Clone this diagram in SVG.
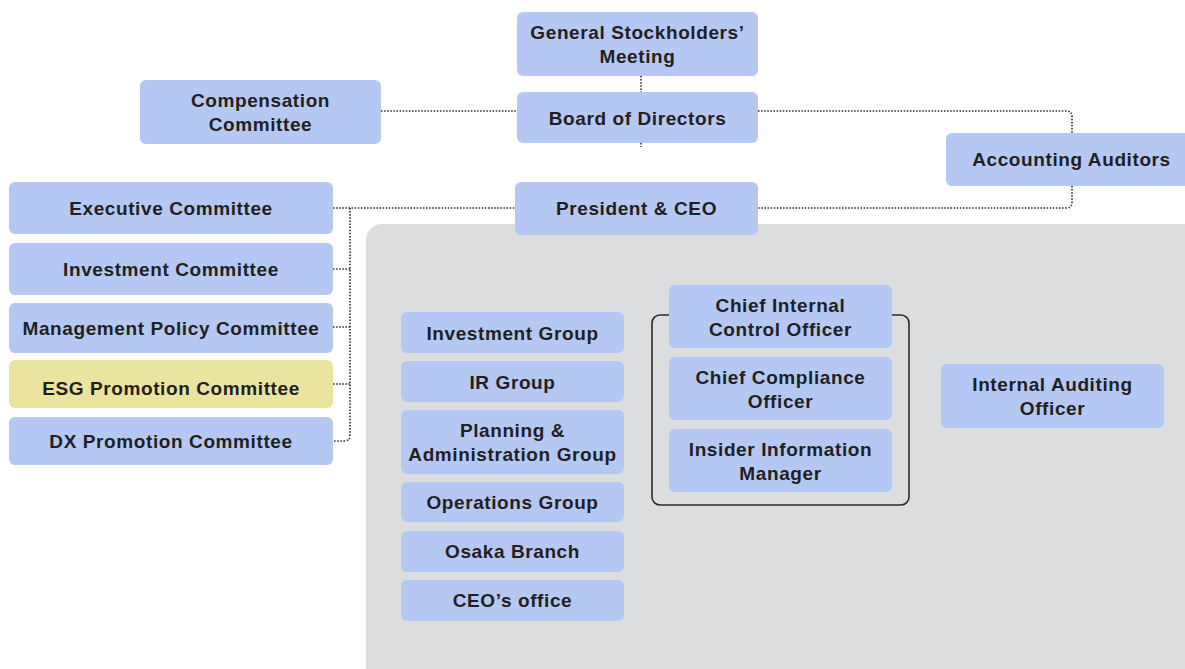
<svg xmlns="http://www.w3.org/2000/svg" width="1185" height="669" viewBox="0 0 1185 669">
<style>
.n{fill:#b4c8f3}
.y{fill:#ebe3a0}
.t{font-family:"Liberation Sans",Arial,sans-serif;font-weight:bold;font-size:19px;letter-spacing:0.6px;fill:#231f20;text-anchor:middle}
.c{fill:none;stroke:#2b2b2b;stroke-width:1.6;stroke-dasharray:1.5 1.6}
</style>
<rect width="1185" height="669" fill="#ffffff"/>
<rect id="area" x="366" y="224" width="850" height="470" rx="16" fill="#dcdddf"/>
<rect id="bracket" x="652" y="315" width="257" height="190" rx="8" fill="none" stroke="#2b2b2b" stroke-width="1.6"/>
<g id="connectors">
<path class="c" d="M641 76V92"/>
<path class="c" d="M641 143V147"/>
<path class="c" d="M381 111H517"/>
<path class="c" d="M758 111H1066Q1072 111 1072 117V133"/>
<path class="c" d="M1072 186V202Q1072 208 1066 208H758"/>
<path class="c" d="M333 208H515"/>
<path class="c" d="M350 208V435Q350 441 344 441H333"/>
<path class="c" d="M333 269H350M333 327H350M333 384H350"/>
</g>
<g id="gsm"><rect class="n" x="517" y="12" width="241" height="64" rx="6"/><text class="t" x="637.5" y="39">General Stockholders’</text><text class="t" x="637.5" y="63">Meeting</text></g>
<g id="comp"><rect class="n" x="140" y="80" width="241" height="64" rx="6"/><text class="t" x="260.5" y="107">Compensation</text><text class="t" x="260.5" y="131">Committee</text></g>
<g id="board"><rect class="n" x="517" y="92" width="241" height="51" rx="6"/><text class="t" x="637.5" y="124.5">Board of Directors</text></g>
<g id="auditors"><rect class="n" x="946" y="133" width="260" height="53" rx="6"/><text class="t" x="1071.5" y="166">Accounting Auditors</text></g>
<g id="president"><rect class="n" x="515" y="182" width="243" height="53" rx="6"/><text class="t" x="636.5" y="215">President &amp; CEO</text></g>
<g id="exec"><rect class="n" x="9" y="182" width="324" height="52" rx="6"/><text class="t" x="171" y="215">Executive Committee</text></g>
<g id="invcom"><rect class="n" x="9" y="243" width="324" height="52" rx="6"/><text class="t" x="171" y="276">Investment Committee</text></g>
<g id="mgmt"><rect class="n" x="9" y="303" width="324" height="50" rx="6"/><text class="t" x="171" y="335">Management Policy Committee</text></g>
<g id="esg"><rect class="y" x="9" y="360" width="324" height="48" rx="6"/><text class="t" x="171" y="395">ESG Promotion Committee</text></g>
<g id="dx"><rect class="n" x="9" y="417" width="324" height="48" rx="6"/><text class="t" x="171" y="448">DX Promotion Committee</text></g>
<g id="invgrp"><rect class="n" x="401" y="312" width="223" height="41" rx="6"/><text class="t" x="512.5" y="339.5">Investment Group</text></g>
<g id="irgrp"><rect class="n" x="401" y="361" width="223" height="41" rx="6"/><text class="t" x="512.5" y="388.5">IR Group</text></g>
<g id="plan"><rect class="n" x="401" y="410" width="223" height="64" rx="6"/><text class="t" x="512.5" y="437">Planning &amp;</text><text class="t" x="512.5" y="461">Administration Group</text></g>
<g id="ops"><rect class="n" x="401" y="482" width="223" height="40" rx="6"/><text class="t" x="512.5" y="509">Operations Group</text></g>
<g id="osaka"><rect class="n" x="401" y="531" width="223" height="41" rx="6"/><text class="t" x="512.5" y="558">Osaka Branch</text></g>
<g id="ceooffice"><rect class="n" x="401" y="580" width="223" height="41" rx="6"/><text class="t" x="512.5" y="607">CEO’s office</text></g>
<g id="cico"><rect class="n" x="669" y="285" width="223" height="63" rx="6"/><text class="t" x="780.5" y="312">Chief Internal</text><text class="t" x="780.5" y="336">Control Officer</text></g>
<g id="cco"><rect class="n" x="669" y="357" width="223" height="63" rx="6"/><text class="t" x="780.5" y="384">Chief Compliance</text><text class="t" x="780.5" y="408">Officer</text></g>
<g id="iim"><rect class="n" x="669" y="429" width="223" height="63" rx="6"/><text class="t" x="780.5" y="456">Insider Information</text><text class="t" x="780.5" y="480">Manager</text></g>
<g id="iao"><rect class="n" x="941" y="364" width="223" height="64" rx="6"/><text class="t" x="1052.5" y="391">Internal Auditing</text><text class="t" x="1052.5" y="415">Officer</text></g>
</svg>
